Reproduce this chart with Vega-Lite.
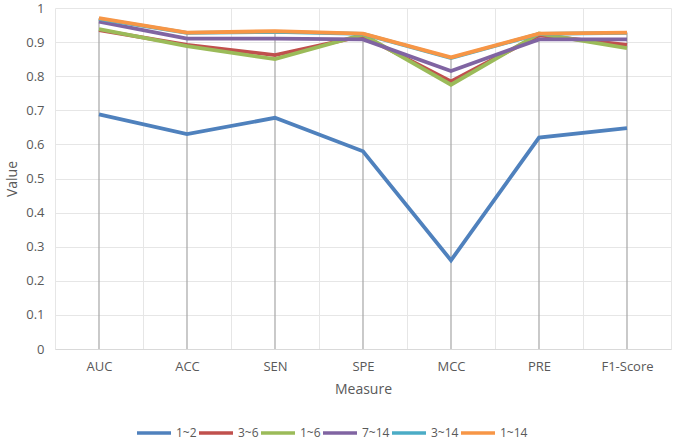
{
  "$schema": "https://vega.github.io/schema/vega-lite/v6.json",
  "width": 616,
  "height": 341,
  "autosize": "none",
  "padding": {"left": 55, "top": 8, "right": 4, "bottom": 93},
  "background": "white",
  "data": {
    "values": [
      {"series": "1~2", "measure": "AUC", "value": 0.688},
      {"series": "1~2", "measure": "ACC", "value": 0.630},
      {"series": "1~2", "measure": "SEN", "value": 0.678},
      {"series": "1~2", "measure": "SPE", "value": 0.580},
      {"series": "1~2", "measure": "MCC", "value": 0.260},
      {"series": "1~2", "measure": "PRE", "value": 0.620},
      {"series": "1~2", "measure": "F1-Score", "value": 0.648},
      {"series": "3~6", "measure": "AUC", "value": 0.935},
      {"series": "3~6", "measure": "ACC", "value": 0.892},
      {"series": "3~6", "measure": "SEN", "value": 0.862},
      {"series": "3~6", "measure": "SPE", "value": 0.918},
      {"series": "3~6", "measure": "MCC", "value": 0.785},
      {"series": "3~6", "measure": "PRE", "value": 0.920},
      {"series": "3~6", "measure": "F1-Score", "value": 0.892},
      {"series": "1~6", "measure": "AUC", "value": 0.938},
      {"series": "1~6", "measure": "ACC", "value": 0.888},
      {"series": "1~6", "measure": "SEN", "value": 0.850},
      {"series": "1~6", "measure": "SPE", "value": 0.922},
      {"series": "1~6", "measure": "MCC", "value": 0.775},
      {"series": "1~6", "measure": "PRE", "value": 0.925},
      {"series": "1~6", "measure": "F1-Score", "value": 0.882},
      {"series": "7~14", "measure": "AUC", "value": 0.960},
      {"series": "7~14", "measure": "ACC", "value": 0.910},
      {"series": "7~14", "measure": "SEN", "value": 0.910},
      {"series": "7~14", "measure": "SPE", "value": 0.908},
      {"series": "7~14", "measure": "MCC", "value": 0.815},
      {"series": "7~14", "measure": "PRE", "value": 0.908},
      {"series": "7~14", "measure": "F1-Score", "value": 0.908},
      {"series": "3~14", "measure": "AUC", "value": 0.968},
      {"series": "3~14", "measure": "ACC", "value": 0.927},
      {"series": "3~14", "measure": "SEN", "value": 0.930},
      {"series": "3~14", "measure": "SPE", "value": 0.924},
      {"series": "3~14", "measure": "MCC", "value": 0.853},
      {"series": "3~14", "measure": "PRE", "value": 0.924},
      {"series": "3~14", "measure": "F1-Score", "value": 0.927},
      {"series": "1~14", "measure": "AUC", "value": 0.970},
      {"series": "1~14", "measure": "ACC", "value": 0.928},
      {"series": "1~14", "measure": "SEN", "value": 0.932},
      {"series": "1~14", "measure": "SPE", "value": 0.925},
      {"series": "1~14", "measure": "MCC", "value": 0.855},
      {"series": "1~14", "measure": "PRE", "value": 0.925},
      {"series": "1~14", "measure": "F1-Score", "value": 0.928}
    ]
  },
  "config": {
    "view": {"stroke": null},
    "font": "Open Sans",
    "axis": {
      "labelColor": "#595959",
      "titleColor": "#595959",
      "labelFontSize": 13,
      "titleFontSize": 14,
      "titleFontWeight": "normal",
      "gridColor": "#e6e6e6",
      "domainColor": "#d9d9d9",
      "ticks": false
    }
  },
  "encoding": {
    "x": {
      "field": "measure",
      "type": "nominal",
      "sort": ["AUC", "ACC", "SEN", "SPE", "MCC", "PRE", "F1-Score"],
      "scale": {"type": "band", "paddingInner": 0, "paddingOuter": 0},
      "axis": {
        "title": "Measure",
        "labelAngle": 0,
        "grid": true,
        "tickBand": "extent",
        "labelPadding": 11,
        "titlePadding": 9
      }
    }
  },
  "layer": [
    {
      "mark": {"type": "rule", "color": "#a6a6a6", "strokeWidth": 1.2},
      "encoding": {
        "y": {
          "aggregate": "max",
          "field": "value",
          "type": "quantitative",
          "scale": {"domain": [0, 1]},
          "axis": {
            "title": "Value",
            "values": [0, 0.1, 0.2, 0.3, 0.4, 0.5, 0.6, 0.7, 0.8, 0.9, 1],
            "format": ".1~f",
            "labelOverlap": false,
            "labelFlush": false,
            "grid": true,
            "domain": false,
            "labelPadding": 11,
            "titlePadding": 6
          }
        },
        "y2": {"datum": 0}
      }
    },
    {
      "mark": {"type": "line", "strokeWidth": 3.8, "strokeCap": "butt"},
      "encoding": {
        "y": {
          "field": "value",
          "type": "quantitative",
          "scale": {"domain": [0, 1]},
          "axis": {
            "title": "Value",
            "values": [0, 0.1, 0.2, 0.3, 0.4, 0.5, 0.6, 0.7, 0.8, 0.9, 1],
            "format": ".1~f",
            "labelOverlap": false,
            "labelFlush": false,
            "grid": true,
            "domain": false,
            "labelPadding": 11,
            "titlePadding": 6
          }
        },
        "color": {
          "field": "series",
          "type": "nominal",
          "scale": {
            "domain": ["1~2", "3~6", "1~6", "7~14", "3~14", "1~14"],
            "range": ["#4F81BD", "#C0504D", "#9BBB59", "#8064A2", "#4BACC6", "#F79646"]
          },
          "legend": {
            "title": null,
            "orient": "none",
            "direction": "horizontal",
            "legendX": 80,
            "legendY": 406,
            "symbolType": "stroke",
            "symbolSize": 1156,
            "symbolStrokeWidth": 3.5,
            "labelFontSize": 12,
            "labelColor": "#595959",
            "columnPadding": -5,
            "labelOffset": 3
          }
        }
      }
    }
  ]
}
